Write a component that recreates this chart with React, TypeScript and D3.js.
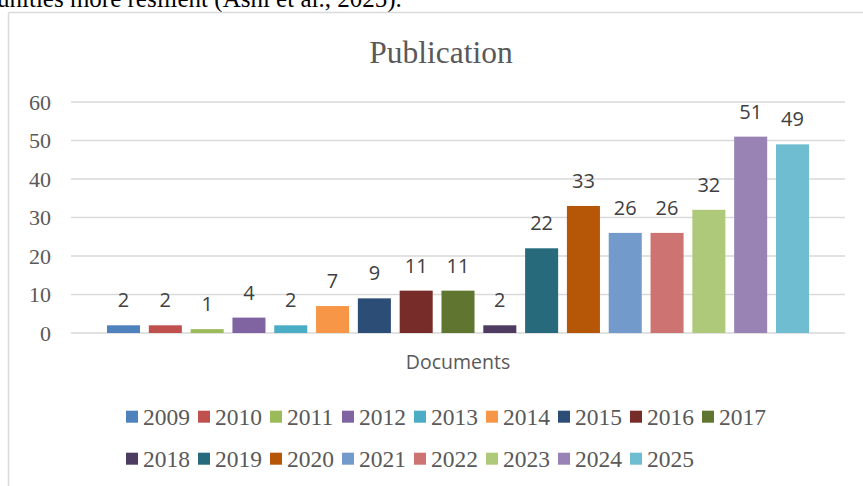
import React from "react";
import * as d3 from "d3";

const years = ["2009","2010","2011","2012","2013","2014","2015","2016","2017","2018","2019","2020","2021","2022","2023","2024","2025"];
const documents = [2, 2, 1, 4, 2, 7, 9, 11, 11, 2, 22, 33, 26, 26, 32, 51, 49];
const colors = ["#4F81BD","#C0504D","#9BBB59","#8064A2","#4BACC6","#F79646","#2C4D75","#772C2A","#5F7530","#4D3B62","#276A7C","#B65708","#729ACA","#CD7371","#AFC97A","#9983B5","#6FBDD1"];
const yTicks = [0, 10, 20, 30, 40, 50, 60];
const title = "Publication";
const categoryLabel = "Documents";
const aboveText = "unities more resilient (Asni et al., 2025).";

export default function App() {
  const W = 863, H = 486;
  const y = d3.scaleLinear().domain([0, 60]).range([333, 102]);
  const x = d3.scaleBand<string>().domain(years).range([107, 809]).paddingInner(0.21).paddingOuter(0);
  const gridX0 = 71, gridX1 = 845;
  const serif = "'Liberation Serif', 'Times New Roman', serif";
  const sans = "'Open Sans', 'Noto Sans', sans-serif";
  const grey = "#595959";
  const legendRows = [years.slice(0, 9), years.slice(9)];
  return (
    <svg width={W} height={H} style={{ position: "absolute", left: 0, top: 0, background: "#fff" }}>
      <rect x={0} y={0} width={W} height={H} fill="#fff" />
      <text x={-3} y={7} fontFamily={serif} fontSize={25} fill="#000">{aboveText}</text>
      <line x1={8.5} y1={12.5} x2={W} y2={12.5} stroke="#d9d9d9" strokeWidth={1.5} />
      <line x1={8.5} y1={12.5} x2={8.5} y2={H} stroke="#d9d9d9" strokeWidth={1.5} />
      <text x={441} y={63} textAnchor="middle" fontFamily={serif} fontSize={31.5} fill={grey}>{title}</text>
      {yTicks.map((t) => (
        <g key={t}>
          <line x1={gridX0} x2={gridX1} y1={y(t)} y2={y(t)} stroke="#d9d9d9" strokeWidth={1.5} />
          <text x={51} y={y(t)} dy="0.35em" textAnchor="end" fontFamily={serif} fontSize={22} fill={grey}>{t}</text>
        </g>
      ))}
      {years.map((yr, i) => (
        <g key={yr}>
          <rect x={x(yr)} y={y(documents[i])} width={x.bandwidth()} height={y(0) - y(documents[i])} fill={colors[i]} />
          <text x={(x(yr) as number) + x.bandwidth() / 2} y={y(documents[i]) - 18} textAnchor="middle" fontFamily={sans} fontSize={20} fill="#404040">{documents[i]}</text>
        </g>
      ))}
      <text x={458} y={369} textAnchor="middle" fontFamily={sans} fontSize={19.5} fill={grey}>{categoryLabel}</text>
      {legendRows.map((row, r) => (
        <g key={r}>
          {row.map((yr, j) => {
            const idx = years.indexOf(yr);
            const sx = 126 + j * 72;
            const cy = r === 0 ? 416.7 : 458.7;
            return (
              <g key={yr}>
                <rect x={sx} y={cy - 6} width={12} height={12} fill={colors[idx]} />
                <text x={sx + 17} y={cy} dy="0.35em" fontFamily={serif} fontSize={23.5} fill={grey}>{yr}</text>
              </g>
            );
          })}
        </g>
      ))}
    </svg>
  );
}
